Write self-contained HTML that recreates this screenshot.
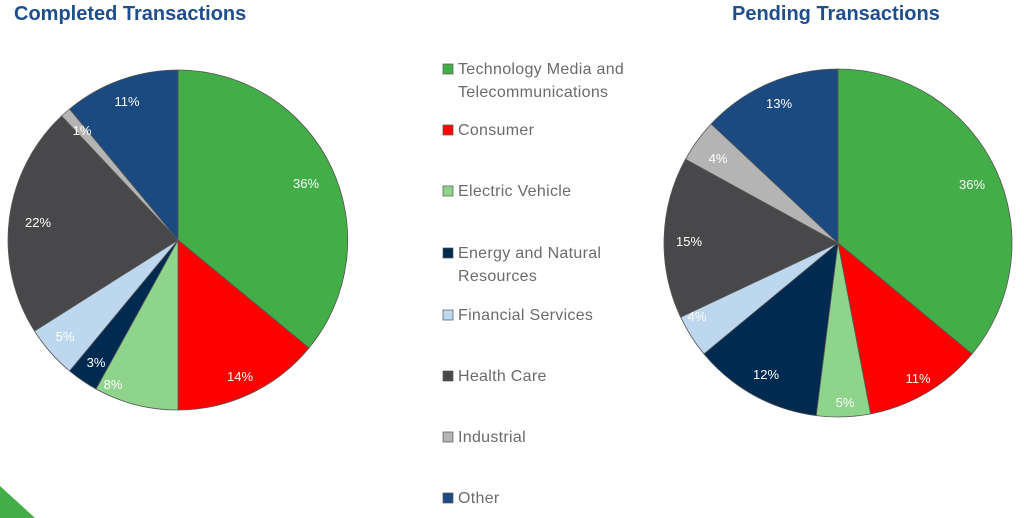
<!DOCTYPE html>
<html><head><meta charset="utf-8"><style>
body{margin:0;background:#fff;}
svg{display:block}
.t{font-family:"Liberation Sans",sans-serif;font-weight:bold;font-size:20px;fill:#1f4e8c}
.l{font-family:"Liberation Sans",sans-serif;font-size:13px;fill:#fff;text-anchor:middle}
.g{font-family:"Liberation Sans",sans-serif;font-size:16px;fill:#6b6b6b;letter-spacing:0.3px}
path{stroke:#555;stroke-width:0.8}
</style></head><body>
<svg width="1024" height="518" viewBox="0 0 1024 518" xmlns="http://www.w3.org/2000/svg">
<text class="t" x="14" y="20">Completed Transactions</text>
<text class="t" x="732" y="20">Pending Transactions</text>
<polygon points="0,486 35,518 0,518" fill="#43ae48"/>
<g>
<path d="M178,240 L178,70 A170,170 0 0 1 309,348 Z" fill="#43ae48"/>
<path d="M178,240 L309,348 A170,170 0 0 1 178,410 Z" fill="#ff0000"/>
<path d="M178,240 L178,410 A170,170 0 0 1 96,389 Z" fill="#8ed48b"/>
<path d="M178,240 L96,389 A170,170 0 0 1 69.6,371 Z" fill="#002a50"/>
<path d="M178,240 L69.6,371 A170,170 0 0 1 34.5,331 Z" fill="#bdd7ee"/>
<path d="M178,240 L34.5,331 A170,170 0 0 1 61.6,116 Z" fill="#48484a"/>
<path d="M178,240 L61.6,116 A170,170 0 0 1 69.6,109 Z" fill="#b4b4b4"/>
<path d="M178,240 L69.6,109 A170,170 0 0 1 178,70 Z" fill="#1a4a80"/>
</g>
<g>
<path d="M838,243 L838,69 A174,174 0 0 1 972,354 Z" fill="#43ae48"/>
<path d="M838,243 L972,354 A174,174 0 0 1 870.6,413.9 Z" fill="#ff0000"/>
<path d="M838,243 L870.6,413.9 A174,174 0 0 1 816.2,415.6 Z" fill="#8ed48b"/>
<path d="M838,243 L816.2,415.6 A174,174 0 0 1 703.9,353.9 Z" fill="#002a50"/>
<path d="M838,243 L703.9,353.9 A174,174 0 0 1 680.6,317.1 Z" fill="#bdd7ee"/>
<path d="M838,243 L680.6,317.1 A174,174 0 0 1 685.5,159.2 Z" fill="#48484a"/>
<path d="M838,243 L685.5,159.2 A174,174 0 0 1 711.2,123.9 Z" fill="#b4b4b4"/>
<path d="M838,243 L711.2,123.9 A174,174 0 0 1 838,69 Z" fill="#1a4a80"/>
</g>
<g>
<text class="l" x="306" y="188">36%</text>
<text class="l" x="240" y="381">14%</text>
<text class="l" x="113" y="389">8%</text>
<text class="l" x="96" y="367">3%</text>
<text class="l" x="65" y="341">5%</text>
<text class="l" x="38" y="227">22%</text>
<text class="l" x="82" y="135">1%</text>
<text class="l" x="127" y="106">11%</text>
<text class="l" x="972" y="189">36%</text>
<text class="l" x="918" y="383">11%</text>
<text class="l" x="845" y="407">5%</text>
<text class="l" x="766" y="379">12%</text>
<text class="l" x="697" y="321">4%</text>
<text class="l" x="689" y="246">15%</text>
<text class="l" x="718" y="163">4%</text>
<text class="l" x="779" y="108">13%</text>
</g>
<g>
<rect x="443" y="64" width="10" height="10" fill="#43ae48" stroke="#555" stroke-width="0.7"/>
<text class="g" x="458" y="74">Technology Media and</text>
<text class="g" x="458" y="97">Telecommunications</text>
<rect x="443" y="125" width="10" height="10" fill="#ff0000" stroke="#555" stroke-width="0.7"/>
<text class="g" x="458" y="135">Consumer</text>
<rect x="443" y="186" width="10" height="10" fill="#8ed48b" stroke="#555" stroke-width="0.7"/>
<text class="g" x="458" y="196">Electric Vehicle</text>
<rect x="443" y="248" width="10" height="10" fill="#002a50" stroke="#555" stroke-width="0.7"/>
<text class="g" x="458" y="258">Energy and Natural</text>
<text class="g" x="458" y="281">Resources</text>
<rect x="443" y="310" width="10" height="10" fill="#bdd7ee" stroke="#555" stroke-width="0.7"/>
<text class="g" x="458" y="320">Financial Services</text>
<rect x="443" y="371" width="10" height="10" fill="#48484a" stroke="#555" stroke-width="0.7"/>
<text class="g" x="458" y="381">Health Care</text>
<rect x="443" y="432" width="10" height="10" fill="#b4b4b4" stroke="#555" stroke-width="0.7"/>
<text class="g" x="458" y="442">Industrial</text>
<rect x="443" y="493" width="10" height="10" fill="#1a4a80" stroke="#555" stroke-width="0.7"/>
<text class="g" x="458" y="503">Other</text>
</g>
</svg>
</body></html>
